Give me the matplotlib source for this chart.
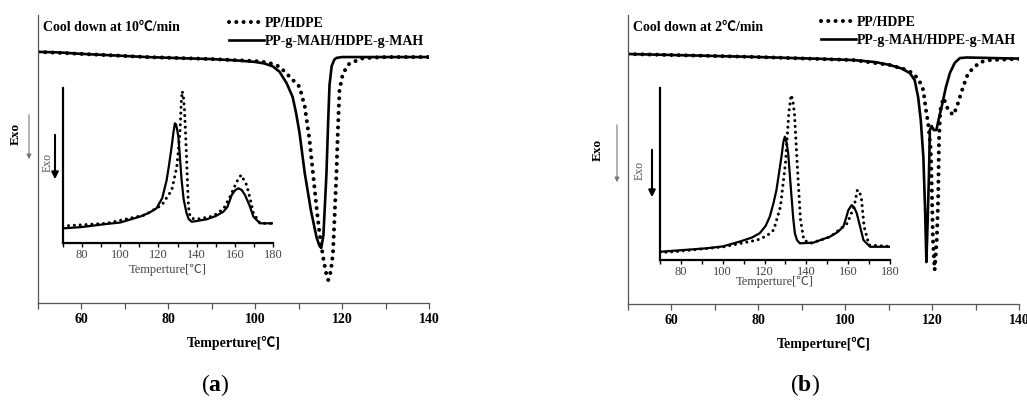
import matplotlib
matplotlib.use("Agg")
import matplotlib.pyplot as plt
from matplotlib.ticker import MultipleLocator

plt.rcParams['font.family'] = ['Liberation Serif', 'Noto Sans CJK SC']
plt.rcParams['mathtext.fontset'] = 'custom'
plt.rcParams['mathtext.rm'] = 'Liberation Serif'
plt.rcParams['mathtext.bf'] = 'Liberation Serif:bold'

# ---- cooling curves (heat flow, arbitrary units, exo down) ----
# 10 C/min
t10_blend = [50, 60, 75, 90, 100, 103, 105.6, 107.9, 110.2, 111.4, 112.5, 113.3, 114.1, 114.8,
             115.6, 116.3, 116.8, 117.4, 117.9, 118.3, 118.7, 119.0, 119.4, 120.2, 121.7, 124.8, 130, 140]
hf10_blend = [87.2, 86.5, 85.4, 84.7, 84.0, 83.5, 82.1, 78.6, 75.1, 68.2, 56.6, 45.0, 33.4, 24.2,
              16.1, 10.5, 8.0, 11.0, 17.3, 31.2, 45.0, 58.9, 74.0, 79.8, 83.2, 85.0, 85.4, 85.4]
t10_graft = [50, 55, 60, 67, 75, 83, 90, 96, 100, 102, 104, 105.6, 107.2, 108.6, 109.4, 110.2, 111.4,
             112.8, 114.1, 114.8, 115.2, 115.7, 116.1, 116.4, 116.8, 117.1, 117.6, 118.2, 118.7, 120,
             130, 140]
hf10_graft = [87.2, 87.0, 86.5, 86.0, 85.4, 85.0, 84.7, 84.2, 83.7, 83.2, 82.2, 80.3, 76.4, 71.6, 66.0,
              59.0, 45.1, 32.3, 22.9, 19.8, 19.1, 23.6, 35.8, 45.1, 63.5, 75.7, 82.3, 84.5, 85.1,
              85.4, 85.4, 85.4]

# 2 C/min
t2_blend = [50, 79, 102, 110.3, 113.5, 115.6, 117, 118, 118.6, 119.1, 119.7, 120.0, 120.2, 120.6,
            121.1, 121.4, 121.6, 121.9, 122.6, 123.2, 123.7, 124.9, 125.7, 126.4, 127.3, 128.3, 131,
            133.4, 140]
hf2_blend = [86.5, 85.5, 84.4, 82.7, 81.3, 79.9, 77.5, 74.0, 67.1, 62.6, 53.6, 36.3, 22.5, 11.8,
             22.5, 36.3, 56.7, 67.1, 71.3, 69.2, 67.1, 65.4, 68.2, 71.6, 75.8, 79.9, 83.7, 84.4, 84.8]
t2_graft = [50, 65, 79, 95, 102, 107, 110.3, 113, 114.9, 116, 116.8, 117.4, 118.0, 118.4, 118.7,
            119.0, 119.3, 119.5, 119.9, 120.4, 121.0, 121.6, 122.2, 123.2, 124.1, 125.2, 126.4, 128, 140]
hf2_graft = [86.5, 86.0, 85.5, 84.8, 84.4, 83.7, 82.7, 81.5, 79.9, 77.5, 71.6, 63.7, 50.9, 32.5, 14.5,
             29.1, 45.3, 60.2, 61.6, 60.2, 60.2, 64.4, 68.2, 75.1, 79.9, 83.4, 85.1, 85.3, 84.9]

# ---- inset heating curves ----
ti10_blend = [70, 73.3, 93, 113, 121.8, 127, 129.6, 130.5, 131.3, 131.9, 132.4, 133.0, 133.6, 134.2,
              134.8, 135.3, 135.7, 136.4, 137.4, 140, 148.7, 154, 157.4, 160.9, 163.2, 166.1, 168,
              169.6, 173.1, 180]
hi10_blend = [11.0, 11.2, 12.7, 18.1, 24.5, 34.2, 49.2, 61.0, 72.9, 90.0, 98.0, 95.0, 86.0, 70.0,
              51.4, 35.0, 23.4, 18.0, 15.9, 15.3, 17.4, 22.0, 29.9, 39.5, 43.9, 37.4, 28.0,
              19.2, 12.7, 12.6]
ti10_graft = [70, 80, 93, 100, 110.3, 115, 119, 122, 124.3, 125.5, 126.9, 127.8, 128.6, 129.2, 129.8,
              130.4, 131.2, 132.1, 133.2, 134.7, 135.8, 137.4, 140, 145.2, 150, 153.9, 156, 158.3,
              160, 161.7, 163.5, 165.2, 167.5, 169.6, 173, 180]
hi10_graft = [9.4, 10.3, 12.3, 13.2, 17.0, 19.4, 22.4, 29.0, 40.6, 50.0, 62.1, 71.0, 77.2, 76.5, 73.0,
              68.6, 56.0, 40.6, 28.0, 19.2, 15.5, 13.7, 14.2, 15.3, 17.4, 20.2, 23.2, 31.0,
              34.0, 35.3, 34.2, 31.0, 24.5, 17.0, 12.7, 12.7]

ti2_blend = [70, 76.4, 100.4, 116.4, 121, 124.4, 127.6, 130, 131.6, 132.7, 133.5, 134.3, 135.6,
             137.2, 138.8, 142, 151.6, 159.6, 162.8, 164.4, 165.5, 166.4, 167.6, 170, 180]
hi2_blend = [4.4, 4.8, 7.7, 11.6, 14.0, 17.5, 31.0, 56.3, 85.4, 96.1, 93.2, 85.4, 56.3,
             23.3, 11.6, 9.7, 13.6, 21.4, 31.0, 40.8, 39.6, 35.0, 19.4, 8.7, 7.9]
ti2_graft = [70, 92.1, 100, 108.1, 114, 117.7, 120.5, 122.5, 124.3, 125.7, 127, 128.1, 129, 129.7,
             130.5, 131.3, 132.1, 132.9, 133.7, 134.5, 135.5, 136.9, 143.3, 151.3, 155, 157.7, 159,
             160.1, 161.7, 163, 164.1, 165.5, 167.3, 170.5, 180]
hi2_graft = [4.8, 6.8, 7.9, 10.7, 13.1, 15.6, 19.8, 25.2, 33.2, 40.8, 51.3, 60.2, 68.7, 71.8,
             68.7, 62.1, 49.5, 36.9, 24.5, 15.6, 11.6, 9.7, 10.1, 13.6, 16.3, 19.4, 24.5,
             29.1, 32.0, 30.3, 27.2, 20.4, 11.6, 7.7, 7.7]

labels = ['PP/HDPE', 'PP-g-MAH/HDPE-g-MAH']
titles = ['Cool down at 10\u2103/min', 'Cool down at 2\u2103/min']
xlabel = 'Temperture[\u2103]'

W, H = 1027, 403
fig = plt.figure(figsize=(W / 100, H / 100), dpi=100)


def box(l, t, r, b):
    return [l / W, 1 - b / H, (r - l) / W, (b - t) / H]


def fp(x, y):
    return (x / W, 1 - y / H)


dot_main = (0, (0.01, 1.8))
dot_ins = (0, (0.01, 1.9))

panels = [
    dict(main=box(38, 15, 429, 303), inset=box(62.7, 88, 273.3, 243),
         curves=(t10_blend, hf10_blend, t10_graft, hf10_graft),
         icurves=(ti10_blend, hi10_blend, ti10_graft, hi10_graft),
         leg=(229, 17), exo=(16, 134), arr=(29, 112, 162), iexo=(48, 162), iarr=(55, 132, 182),
         ilabelpad=2, tag='(' + r'$\mathbf{a}$' + ')', tagx=215),
    dict(main=box(627.7, 15, 1019, 304), inset=box(660, 88.3, 890, 260),
         curves=(t2_blend, hf2_blend, t2_graft, hf2_graft),
         icurves=(ti2_blend, hi2_blend, ti2_graft, hi2_graft),
         leg=(821, 16), exo=(598, 150), arr=(617, 122, 185), iexo=(640, 170), iarr=(652, 147, 200),
         ilabelpad=-1.5, tag='(' + r'$\mathbf{b}$' + ')', tagx=805),
]

for i, p in enumerate(panels):
    ax = fig.add_axes(p['main'])
    tb, hb, tg, hg = p['curves']
    l1, = ax.plot(tb, hb, color='black', lw=2.9, linestyle=dot_main, dash_capstyle='round')
    l2, = ax.plot(tg, hg, color='black', lw=1.9, solid_joinstyle='round')
    ax.set_xlim(50, 140)
    ax.set_ylim(0, 100)
    for s in ['top', 'right']:
        ax.spines[s].set_visible(False)
    for s in ['left', 'bottom']:
        ax.spines[s].set_color('#555555')
        ax.spines[s].set_linewidth(0.9)
    ax.set_yticks([])
    ax.xaxis.set_major_locator(MultipleLocator(20))
    ax.xaxis.set_minor_locator(MultipleLocator(10))
    ax.tick_params(axis='x', which='both', direction='out', length=4, width=0.9,
                   color='#555555', pad=3)
    for lab in ax.get_xticklabels():
        lab.set_fontsize(10)
        lab.set_fontweight('bold')
    ax.set_xlabel(xlabel, fontsize=10, fontweight='bold', labelpad=7)
    ax.text(0.013, 0.957, titles[i], transform=ax.transAxes, fontsize=10,
            fontweight='bold', va='center', ha='left')
    ax.legend([l1, l2], labels, loc='upper left', bbox_to_anchor=fp(*p['leg']),
              bbox_transform=fig.transFigure, frameon=False, borderpad=0, borderaxespad=0,
              handlelength=2.5, handletextpad=0.1, labelspacing=0.35,
              prop=dict(size=10, weight='bold'))

    # Exo labels and arrows
    fig.text(*fp(*p['exo']), 'Exo', rotation=90, fontsize=9.5, fontweight='bold',
             ha='center', va='center')
    ax_, y0, y1 = p['arr']
    ax.annotate('', xy=fp(ax_, y1), xytext=fp(ax_, y0), xycoords='figure fraction',
                arrowprops=dict(arrowstyle='-|>', color='#777777', lw=0.8, mutation_scale=7))
    fig.text(*fp(*p['iexo']), 'Exo', rotation=90, fontsize=8.5, color='#555555',
             ha='center', va='center')
    ax_, y0, y1 = p['iarr']
    ax.annotate('', xy=fp(ax_, y1), xytext=fp(ax_, y0), xycoords='figure fraction',
                arrowprops=dict(arrowstyle='-|>', color='black', lw=1.5, mutation_scale=10))

    # inset
    ins = fig.add_axes(p['inset'])
    ins.patch.set_alpha(0)
    tb, hb, tg, hg = p['icurves']
    ins.plot(tb, hb, color='black', lw=2.2, linestyle=dot_ins, dash_capstyle='round')
    ins.plot(tg, hg, color='black', lw=1.6, solid_joinstyle='round')
    ins.set_xlim(70, 180)
    ins.set_ylim(0, 100)
    for s in ['top', 'right']:
        ins.spines[s].set_visible(False)
    for s in ['left', 'bottom']:
        ins.spines[s].set_linewidth(1.6)
    ins.set_yticks([])
    ins.xaxis.set_major_locator(MultipleLocator(20))
    ins.xaxis.set_minor_locator(MultipleLocator(10))
    ins.tick_params(axis='x', which='both', direction='out', length=3, width=1.0,
                    labelsize=9, labelcolor='#444444', pad=1.5)
    ins.set_xlabel(xlabel, fontsize=9, color='#444444', labelpad=p['ilabelpad'])

    fig.text(p['tagx'] / W, 1 - 385 / H, p['tag'], fontsize=17, ha='center', va='center')

fig.savefig('out.png', dpi=100)
